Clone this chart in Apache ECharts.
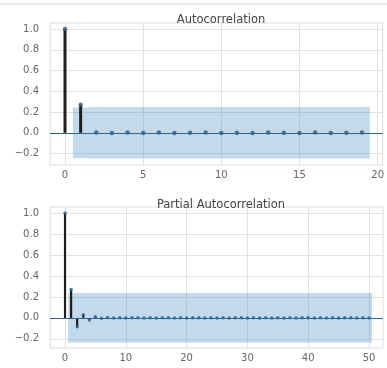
<!DOCTYPE html>
<html>
<head>
<meta charset="utf-8">
<script src="https://cdn.jsdelivr.net/npm/echarts@6/dist/echarts.min.js"></script>
<style>html,body{margin:0;padding:0;background:#fff;}#c{width:387px;height:368px;}</style>
</head>
<body>
<div id="c"></div>
<script>
// ---- data ----
const acfLags = [0,1,2,3,4,5,6,7,8,9,10,11,12,13,14,15,16,17,18,19];
const acfValues = [1.0,0.27,0.003,-0.002,0.002,-0.001,0.002,-0.002,0.001,0.002,-0.001,0.001,-0.002,0.002,0.001,-0.001,0.002,-0.001,0.001,0.002];
const acfBandLags = [1,2,3,4,5,6,7,8,9,10,11,12,13,14,15,16,17,18,19];
const acfBandUpper = [0.245,0.248,0.248,0.248,0.248,0.248,0.248,0.248,0.248,0.248,0.248,0.248,0.248,0.248,0.248,0.248,0.248,0.248,0.248];
const acfBandLower = [-0.245,-0.248,-0.248,-0.248,-0.248,-0.248,-0.248,-0.248,-0.248,-0.248,-0.248,-0.248,-0.248,-0.248,-0.248,-0.248,-0.248,-0.248,-0.248];

const pacfLags = [0,1,2,3,4,5,6,7,8,9,10,11,12,13,14,15,16,17,18,19,20,21,22,23,24,25,26,27,28,29,30,31,32,33,34,35,36,37,38,39,40,41,42,43,44,45,46,47,48,49,50];
const pacfValues = [1.0,0.27,-0.085,0.03,-0.02,0.01,-0.004,0.003,-0.002,0.002,-0.002,0.001,0.002,-0.001,0.001,-0.002,0.001,0.002,-0.001,0.001,-0.002,0.001,0.001,-0.001,0.002,-0.001,0.001,-0.002,0.001,0.001,-0.001,0.002,-0.001,0.001,-0.001,0.002,-0.001,0.001,-0.002,0.001,0.001,-0.001,0.002,-0.001,0.001,-0.001,0.001,0.002,-0.001,0.001,-0.001];
const pacfBandLags = pacfLags.slice(1);
const pacfBandUpper = [0.238,0.238,0.238,0.238,0.238,0.238,0.238,0.238,0.238,0.238,0.238,0.238,0.238,0.238,0.238,0.238,0.238,0.238,0.238,0.238,0.238,0.238,0.238,0.238,0.238,0.238,0.238,0.238,0.238,0.238,0.238,0.238,0.238,0.238,0.238,0.238,0.238,0.238,0.238,0.238,0.238,0.238,0.238,0.238,0.238,0.238,0.238,0.238,0.238,0.238];
const pacfBandLower = pacfBandUpper.map(v => -v);

const acfXTicks = [0,5,10,15,20];
const pacfXTicks = [0,10,20,30,40,50];
const yTicks = [-0.2,0.0,0.2,0.4,0.6,0.8,1.0];
const titles = ['Autocorrelation','Partial Autocorrelation'];

// ---- chart ----
const chart = echarts.init(document.getElementById('c'), null, {renderer:'canvas'});
const FONT = 'DejaVu Sans';
const fmtY = v => (v < 0 ? '\u2212' : '') + Math.abs(v).toFixed(1);

function xAxis(gi, min, max, ticks) {
  return {
    type:'value', gridIndex:gi, min:min, max:max,
    axisLine:{show:false},
    axisTick:{show:false, customValues:ticks},
    axisLabel:{customValues:ticks, color:'#666', fontSize:10, fontFamily:FONT, margin:5},
    splitLine:{show:true, lineStyle:{color:'#e2e2e2', width:1}}
  };
}
function yAxis(gi, min, max) {
  return {
    type:'value', gridIndex:gi, min:min, max:max,
    axisLine:{show:false},
    axisTick:{show:false, customValues:yTicks},
    axisLabel:{customValues:yTicks, formatter:fmtY, color:'#666', fontSize:10, fontFamily:FONT, margin:11},
    splitLine:{show:true, lineStyle:{color:'#e2e2e2', width:1}}
  };
}
function bandSeries(gi, lags, lower, upper) {
  const data = lags.map((l,i) => [l, lower[i], upper[i]]);
  return {
    type:'custom', xAxisIndex:gi, yAxisIndex:gi, z:1, silent:true,
    data:data, encode:{x:0, y:[1,2]},
    renderItem:function(params, api) {
      if (params.dataIndex !== 0) return null;
      const pts = [];
      data.forEach(d => { pts.push(api.coord([d[0]-0.5, d[2]])); pts.push(api.coord([d[0]+0.5, d[2]])); });
      for (let i = data.length-1; i >= 0; i--) { const d = data[i]; pts.push(api.coord([d[0]+0.5, d[1]])); pts.push(api.coord([d[0]-0.5, d[1]])); }
      return {type:'polygon', shape:{points:pts}, style:{fill:'rgba(31,119,180,0.27)'}};
    }
  };
}
function stemSeries(gi, lags, vals, w) {
  return {
    type:'custom', xAxisIndex:gi, yAxisIndex:gi, z:3, silent:true,
    data:lags.map((l,i)=>[l, vals[i]]), encode:{x:0, y:1},
    renderItem:function(params, api) {
      const p0 = api.coord([api.value(0), 0]);
      const p1 = api.coord([api.value(0), api.value(1)]);
      return {type:'line', shape:{x1:p0[0], y1:p0[1], x2:p1[0], y2:p1[1]}, style:{stroke:'#1e1e1e', lineWidth:w}};
    }
  };
}
function markerSeries(gi, lags, vals, size) {
  return {
    type:'scatter', xAxisIndex:gi, yAxisIndex:gi, z:4, silent:true,
    symbolSize:size, itemStyle:{color:'#245f92'},
    data:lags.map((l,i)=>[l, vals[i]]),
    markLine:{silent:true, symbol:['none','none'], label:{show:false}, animation:false,
      lineStyle:{color:'#2f6690', width:1.2, type:'solid'}, data:[{yAxis:0}]}
  };
}

chart.setOption({
  animation:false,
  backgroundColor:'#fff',
  graphic:[{type:'rect', left:0, top:3, shape:{width:387, height:2}, style:{fill:'#e9e9e9'}, silent:true}],
  title:[
    {text:titles[0], left:216, top:9, textAlign:'center', textStyle:{fontFamily:FONT, fontSize:11.5, fontWeight:'normal', color:'#444'}},
    {text:titles[1], left:216, top:194, textAlign:'center', textStyle:{fontFamily:FONT, fontSize:11.5, fontWeight:'normal', color:'#444'}}
  ],
  grid:[
    {left:50, top:23, width:333, height:142, show:true, borderColor:'#dcdcdc', borderWidth:1, backgroundColor:'#fff'},
    {left:50, top:207, width:333, height:141, show:true, borderColor:'#dcdcdc', borderWidth:1, backgroundColor:'#fff'}
  ],
  xAxis:[xAxis(0, -0.96, 20.32, acfXTicks), xAxis(1, -2.47, 52.3, pacfXTicks)],
  yAxis:[yAxis(0, -0.31, 1.058), yAxis(1, -0.287, 1.057)],
  series:[
    bandSeries(0, acfBandLags, acfBandLower, acfBandUpper),
    stemSeries(0, acfLags, acfValues, 3),
    markerSeries(0, acfLags, acfValues, 4.5),
    bandSeries(1, pacfBandLags, pacfBandLower, pacfBandUpper),
    stemSeries(1, pacfLags, pacfValues, 2.2),
    markerSeries(1, pacfLags, pacfValues, 3.5)
  ]
});
</script>
</body>
</html>
